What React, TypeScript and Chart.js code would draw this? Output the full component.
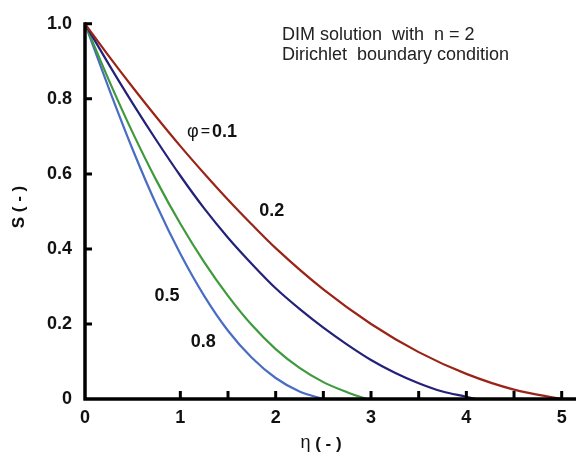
import React, { useEffect, useRef } from "react";
import { Chart, registerables } from "chart.js";

Chart.register(...registerables);

// φ = 0.1
const eta01 = [0, 0.25, 0.5, 0.75, 1, 1.25, 1.5, 1.75, 2, 2.5, 3, 3.5, 4, 4.5, 5];
const s01 = [1, 0.914, 0.831, 0.751, 0.674, 0.601, 0.531, 0.465, 0.402, 0.292, 0.2, 0.125, 0.067, 0.025, 0];
// φ = 0.2
const eta02 = [0, 0.25, 0.5, 0.75, 1, 1.25, 1.5, 1.75, 2, 2.25, 2.5, 2.75, 3, 3.25, 3.5, 3.75, 4, 4.1];
const s02 = [1, 0.892, 0.788, 0.689, 0.595, 0.508, 0.43, 0.36, 0.295, 0.24, 0.19, 0.145, 0.104, 0.07, 0.042, 0.02, 0.006, 0];
// φ = 0.5
const eta05 = [0, 0.25, 0.5, 0.75, 1, 1.25, 1.5, 1.75, 2, 2.25, 2.5, 2.75, 2.95];
const s05 = [1, 0.85, 0.71, 0.582, 0.467, 0.365, 0.275, 0.197, 0.133, 0.083, 0.045, 0.018, 0];
// φ = 0.8
const eta08 = [0, 0.25, 0.5, 0.75, 1, 1.25, 1.5, 1.75, 2, 2.25, 2.5];
const s08 = [1, 0.828, 0.665, 0.517, 0.387, 0.275, 0.182, 0.11, 0.056, 0.02, 0];

const xTickValues = [0, 1, 2, 3, 4, 5];
const yTickValues = [0, 0.2, 0.4, 0.6, 0.8, 1.0];
const xMinorTicks = [1, 1.5, 2, 2.5, 3, 3.5, 4, 4.5, 5];

const FONT = "'Liberation Sans', Arial, Helvetica, sans-serif";

const toPoints = (xs: number[], ys: number[]) => xs.map((x, i) => ({ x, y: ys[i] }));

const decorPlugin = {
  id: "decor",
  afterDatasetsDraw(chart: any) {
    const ctx = chart.ctx as CanvasRenderingContext2D;
    const xs = chart.scales.x;
    const ys = chart.scales.y;
    const { left, right, top, bottom } = chart.chartArea;
    ctx.save();
    ctx.strokeStyle = "#000";
    ctx.lineCap = "butt";
    // axes
    ctx.lineWidth = 3.5;
    ctx.beginPath();
    ctx.moveTo(left, top - 1.5);
    ctx.lineTo(left, bottom + 1.5);
    ctx.moveTo(left - 1.5, bottom);
    ctx.lineTo(right, bottom);
    ctx.stroke();
    // ticks
    ctx.lineWidth = 3;
    ctx.beginPath();
    yTickValues.forEach((v) => {
      if (v === 0) return;
      const py = ys.getPixelForValue(v);
      ctx.moveTo(left, py);
      ctx.lineTo(left + 7, py);
    });
    xMinorTicks.forEach((v) => {
      const px = xs.getPixelForValue(v);
      ctx.moveTo(px, bottom);
      ctx.lineTo(px, bottom - 8);
    });
    ctx.stroke();

    // axis titles
    ctx.fillStyle = "#111";
    ctx.textBaseline = "middle";
    ctx.textAlign = "center";
    ctx.save();
    ctx.translate(19, 207);
    ctx.rotate(-Math.PI / 2);
    ctx.font = `bold 17px ${FONT}`;
    ctx.fillText("S ( - )", 0, 0);
    ctx.restore();

    // eta title
    ctx.textAlign = "left";
    ctx.font = `18px ${FONT}`;
    const etaW = ctx.measureText("η").width;
    ctx.font = `bold 17px ${FONT}`;
    const restW = ctx.measureText(" ( - )").width;
    const startX = 321 - (etaW + restW) / 2;
    ctx.font = `18px ${FONT}`;
    ctx.fillText("η", startX, 443);
    ctx.font = `bold 17px ${FONT}`;
    ctx.fillText(" ( - )", startX + etaW, 444);

    // header text
    ctx.font = `18px ${FONT}`;
    ctx.fillStyle = "#222";
    ctx.fillText("DIM solution  with  n = 2", 282, 35);
    ctx.fillText("Dirichlet  boundary condition", 282, 55);

    // curve labels
    ctx.fillStyle = "#111";
    const phiX = xs.getPixelForValue(1.07);
    const phiY = ys.getPixelForValue(0.712);
    ctx.font = `18px ${FONT}`;
    ctx.fillText("φ", phiX, phiY);
    const pw = ctx.measureText("φ").width;
    ctx.font = `16px ${FONT}`;
    ctx.fillText("=", phiX + pw + 2, phiY);
    const ew = ctx.measureText("=").width;
    ctx.font = `bold 18px ${FONT}`;
    ctx.fillText("0.1", phiX + pw + ew + 4, phiY);

    ctx.textAlign = "center";
    ctx.fillText("0.2", xs.getPixelForValue(1.96), ys.getPixelForValue(0.50));
    ctx.fillText("0.5", xs.getPixelForValue(0.86), ys.getPixelForValue(0.275));
    ctx.fillText("0.8", xs.getPixelForValue(1.24), ys.getPixelForValue(0.153));
    ctx.restore();
  },
};

export default function App() {
  const ref = useRef<HTMLCanvasElement | null>(null);
  useEffect(() => {
    if (!ref.current) return;
    const line = (data: any[], color: string) => ({
      data,
      borderColor: color,
      backgroundColor: color,
      borderWidth: 2.2,
      pointRadius: 0,
      fill: false,
      cubicInterpolationMode: "monotone" as const,
    });
    const chart = new Chart(ref.current, {
      type: "line",
      data: {
        datasets: [
          line(toPoints(eta01, s01), "#9a2418"),
          line(toPoints(eta02, s02), "#23217a"),
          line(toPoints(eta05, s05), "#3f9a3c"),
          line(toPoints(eta08, s08), "#4a6cc4"),
        ],
      },
      options: {
        animation: false,
        responsive: true,
        maintainAspectRatio: false,
        layout: { padding: { top: 11, left: 0, right: 0, bottom: 0 } },
        plugins: { legend: { display: false }, tooltip: { enabled: false } },
        scales: {
          x: {
            type: "linear",
            min: 0,
            max: 5.15,
            grid: { display: false, drawTicks: false },
            border: { display: false },
            afterBuildTicks: (s: any) => {
              s.ticks = xTickValues.map((v) => ({ value: v }));
            },
            afterFit: (s: any) => {
              s.height = 58;
            },
            ticks: {
              padding: 8,
              color: "#111",
              font: { family: FONT, size: 18, weight: "bold" },
              maxRotation: 0,
              callback: (v: any) => String(v),
            },
          },
          y: {
            type: "linear",
            min: 0,
            max: 1,
            grid: { display: false, drawTicks: false },
            border: { display: false },
            afterBuildTicks: (s: any) => {
              s.ticks = yTickValues.map((v) => ({ value: v }));
            },
            afterFit: (s: any) => {
              s.width = 85;
            },
            ticks: {
              padding: 13,
              color: "#111",
              font: { family: FONT, size: 18, weight: "bold" },
              callback: (v: any) => (Number(v) === 0 ? "0" : Number(v).toFixed(1)),
            },
          },
        },
      },
      plugins: [decorPlugin],
    });
    return () => chart.destroy();
  }, []);
  return (
    <div style={{ position: "absolute", left: 0, top: 0, width: 576, height: 457, background: "#fff" }}>
      <canvas ref={ref} />
    </div>
  );
}
